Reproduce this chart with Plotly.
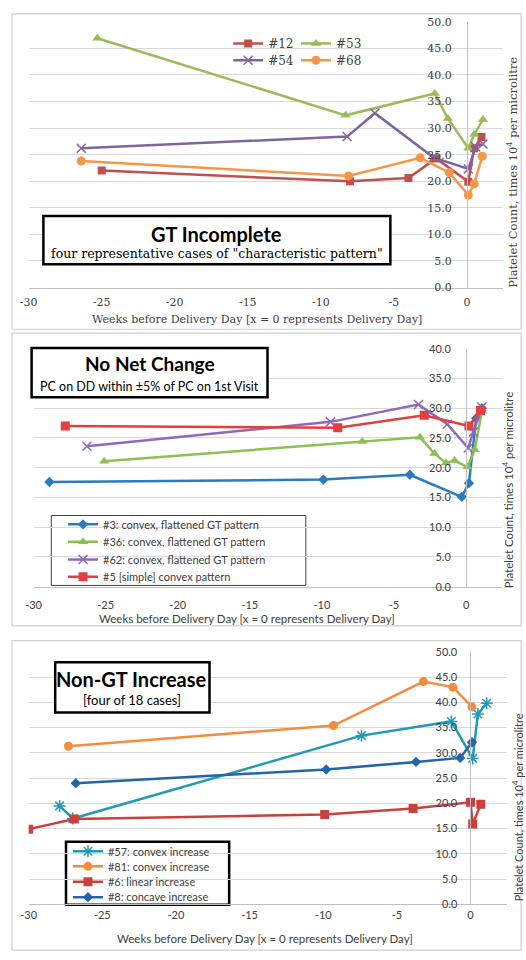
import plotly.graph_objects as go

W, H = 526, 960


def fx(px):
    return px / W


def fy(py):
    return 1 - py / H


# ---------------- Data ----------------
# Panel 1: GT Incomplete
p1_12_x = [-25.0, -8.0, -4.0, -2.1, 0.1, 0.5, 1.0]
p1_12_y = [22.0, 20.0, 20.6, 24.3, 19.9, 26.2, 28.3]
p1_53_x = [-25.3, -8.3, -2.2, -1.3, 0.1, 0.5, 1.1]
p1_53_y = [46.9, 32.4, 36.5, 31.8, 26.2, 28.8, 31.6]
p1_54_x = [-26.4, -8.2, -6.3, -2.3, 0.1, 0.6, 1.1]
p1_54_y = [26.2, 28.4, 32.8, 24.5, 22.3, 26.5, 27.0]
p1_68_x = [-26.4, -8.1, -3.2, -1.2, 0.1, 0.5, 1.05]
p1_68_y = [23.8, 21.0, 24.4, 21.6, 17.4, 19.5, 24.7]

# Panel 2: No Net Change
p2_3_x = [-28.9, -9.9, -3.9, -0.3, 0.2, 0.7, 1.1]
p2_3_y = [17.6, 18.0, 18.8, 15.1, 17.4, 28.3, 30.0]
p2_36_x = [-25.1, -7.2, -3.2, -2.2, -1.4, -0.8, 0.1, 0.6, 1.1]
p2_36_y = [21.1, 24.4, 25.1, 22.4, 20.8, 21.2, 20.1, 23.0, 29.5]
p2_62_x = [-26.3, -9.4, -3.3, -1.3, 0.15, 0.5, 1.1]
p2_62_y = [23.6, 27.7, 30.6, 27.3, 23.3, 26.0, 30.2]
p2_5_x = [-27.8, -8.9, -2.9, 0.2, 1.0]
p2_5_y = [27.0, 26.7, 28.8, 27.0, 29.6]

# Panel 3: Non-GT Increase
p3_57_x = [-27.9, -27.0, -7.4, -1.3, 0.15, 0.5, 1.1]
p3_57_y = [19.5, 17.0, 33.4, 36.2, 28.9, 37.7, 39.8]
p3_81_x = [-27.3, -9.3, -3.2, -1.2, 0.1]
p3_81_y = [31.3, 35.4, 44.1, 43.0, 39.1]
p3_6_x = [-30.0, -26.9, -9.9, -3.9, 0.0, 0.15, 0.7]
p3_6_y = [14.9, 16.9, 17.8, 19.0, 20.2, 15.9, 19.8]
p3_8_x = [-26.8, -9.8, -3.7, -0.7, 0.1]
p3_8_y = [24.0, 26.7, 28.2, 29.0, 32.1]

x_ticks = [-30, -25, -20, -15, -10, -5, 0]
x_tick_text = ["-30", "-25", "-20", "-15", "-10", "-5", "0"]
x_title = "Weeks before Delivery Day [x = 0 represents Delivery Day]"
y_title = "Platelet Count, times 10<sup>4</sup> per microlitre"

SERIF = "DejaVu Serif"
SANS = "Lato"
TXT = "#404040"

fig = go.Figure()


def add(x, y, name, color, symbol, size, xa, ya, legend, lw=2.5, mline=None):
    marker = dict(symbol=symbol, size=size, color=color)
    if mline:
        marker["line"] = dict(color=color, width=mline)
    fig.add_trace(go.Scatter(
        x=x, y=y, name=name, mode="lines+markers",
        line=dict(color=color, width=lw), marker=marker,
        xaxis=xa, yaxis=ya, legend=legend,
    ))


# Panel 1 traces
add(p1_12_x, p1_12_y, "#12", "#C0504D", "square", 8, "x", "y", "legend")
add(p1_53_x, p1_53_y, "#53", "#9BBB59", "triangle-up", 9, "x", "y", "legend2")
add(p1_54_x, p1_54_y, "#54", "#8064A2", "x-thin", 9, "x", "y", "legend3", mline=1.5)
add(p1_68_x, p1_68_y, "#68", "#F79646", "circle", 9, "x", "y", "legend4")

# Panel 2 traces
add(p2_3_x, p2_3_y, "#3: convex, flattened GT pattern", "#2A7BC0", "diamond", 8, "x2", "y2", "legend5")
add(p2_36_x, p2_36_y, "#36: convex, flattened GT pattern", "#8DC050", "triangle-up", 9, "x2", "y2", "legend6")
add(p2_62_x, p2_62_y, "#62: convex, flattened GT pattern", "#8E6BB8", "x-thin", 9, "x2", "y2", "legend7", mline=1.5)
add(p2_5_x, p2_5_y, "#5 [simple] convex pattern", "#E2403E", "square", 9, "x2", "y2", "legend8")

# Panel 3 traces
add(p3_57_x, p3_57_y, "#57: convex increase", "#1F9BB5", "asterisk", 10, "x3", "y3", "legend9", mline=1.5)
add(p3_81_x, p3_81_y, "#81: convex increase", "#F58B3C", "circle", 9, "x3", "y3", "legend10")
add(p3_6_x, p3_6_y, "#6: linear increase", "#C9403E", "square", 9, "x3", "y3", "legend11")
add(p3_8_x, p3_8_y, "#8: concave increase", "#2265A8", "diamond", 8, "x3", "y3", "legend12")

GRID = "#D9D9D9"
AXL = "#BFBFBF"


def xax(left, right, anchor, font, standoff):
    return dict(
        domain=[fx(left), fx(right)], range=[-30, 2.5], anchor=anchor,
        tickvals=x_ticks, ticktext=x_tick_text, showgrid=False, zeroline=False,
        showline=True, linecolor=AXL, linewidth=1, ticks="",
        ticklabelstandoff=standoff,
        tickfont=dict(family=font, size=11, color=TXT),
    )


def yax(top, bottom, x0px, ymax, font, standoff):
    return dict(
        domain=[fy(bottom), fy(top)], range=[0, ymax], anchor="free",
        position=fx(x0px), dtick=5, tickformat=".1f",
        showgrid=True, gridcolor=GRID, gridwidth=1, zeroline=False,
        showline=True, linecolor=AXL, linewidth=1, ticks="",
        ticklabelstandoff=standoff,
        tickfont=dict(family=font, size=11, color=TXT),
    )


def leg(xtext, ycenter, font, size):
    return dict(x=fx(xtext - 45), y=fy(ycenter), xanchor="left", yanchor="middle",
                bgcolor="rgba(0,0,0,0)", borderwidth=0,
                font=dict(family=font, size=size, color=TXT))


layout = dict(
    width=W, height=H, margin=dict(l=0, r=0, t=0, b=0),
    paper_bgcolor="white", plot_bgcolor="rgba(0,0,0,0)",
    xaxis=xax(20, 503, "y", SERIF, 4),
    yaxis=yax(15, 284.7, 466, 50, SERIF, 13),
    xaxis2=xax(25, 501.7, "y2", SANS, 8),
    yaxis2=yax(346.7, 588.3, 465, 40, SANS, 13),
    xaxis3=xax(20, 507, "y3", SANS, 0),
    yaxis3=yax(654.3, 910.7, 469.5, 50, SANS, 11),
    showlegend=True,
    legend=leg(268, 37, SERIF, 12),
    legend2=leg(337, 37, SERIF, 12),
    legend3=leg(268, 54, SERIF, 12),
    legend4=leg(337, 54, SERIF, 12),
    legend5=leg(100, 525, SANS, 11),
    legend6=leg(100, 542.7, SANS, 11),
    legend7=leg(100, 560.7, SANS, 11),
    legend8=leg(100, 578.3, SANS, 11),
    legend9=leg(105, 856.7, SANS, 11),
    legend10=leg(105, 872, SANS, 11),
    legend11=leg(105, 887.7, SANS, 11),
    legend12=leg(105, 903.3, SANS, 11),
)
fig.update_layout(**layout)

shapes = []
# panel borders
for (t, b) in [(7, 327), (331, 628), (643, 957)]:
    shapes.append(dict(type="rect", xref="paper", yref="paper",
                       x0=fx(3), x1=fx(521), y0=fy(b), y1=fy(t),
                       line=dict(color="#D0D0D0", width=1.2)))
# annotation boxes
for (l, r, t, b) in [(35, 388, 212, 261), (23, 263, 346, 396), (47, 204, 665, 716)]:
    shapes.append(dict(type="rect", xref="paper", yref="paper",
                       x0=fx(l), x1=fx(r), y0=fy(b), y1=fy(t),
                       fillcolor="white", line=dict(color="black", width=2.5),
                       layer="above"))
# legend boxes
shapes.append(dict(type="rect", xref="paper", yref="paper",
                   x0=fx(43), x1=fx(302), y0=fy(587), y1=fy(516),
                   fillcolor="white", line=dict(color="#404040", width=1), layer="below"))
shapes.append(dict(type="rect", xref="paper", yref="paper",
                   x0=fx(58), x1=fx(224), y0=fy(911), y1=fy(847),
                   fillcolor="white", line=dict(color="black", width=2.5), layer="below"))
fig.update_layout(shapes=shapes)

ann = []


def text(x, y, s, font, size, bold=False, angle=0, color="black"):
    ann.append(dict(xref="paper", yref="paper", x=fx(x), y=fy(y),
                    xanchor="center", yanchor="middle", showarrow=False,
                    text=("<b>%s</b>" % s) if bold else s, textangle=angle,
                    font=dict(family=font, size=size, color=color)))


# panel 1 texts
text(211, 230, "GT Incomplete", SANS, 20, bold=True)
text(212, 250, "four representative cases of \"characteristic pattern\"", SERIF, 12.5)
text(252, 317, x_title, SERIF, 11, color=TXT)
text(512, 168, y_title, SERIF, 11.5, angle=-90, color=TXT)
# panel 2 texts
text(143, 362, "No Net Change", SANS, 19, bold=True)
text(143, 385, "PC on DD within \u00b15% of PC on 1st Visit", SANS, 12.5)
text(242, 621, x_title, SANS, 11.5, color=TXT)
text(508, 490, y_title, SANS, 11.5, angle=-90, color=TXT)
# panel 3 texts
text(125, 682, "Non-GT Increase", SANS, 20, bold=True)
text(125, 703, "[four of 18 cases]", SANS, 13)
text(260, 945, x_title, SANS, 11.5, color=TXT)
text(517, 812, y_title, SANS, 11, angle=-90, color=TXT)

fig.update_layout(annotations=ann)

fig.write_html("out.html")
